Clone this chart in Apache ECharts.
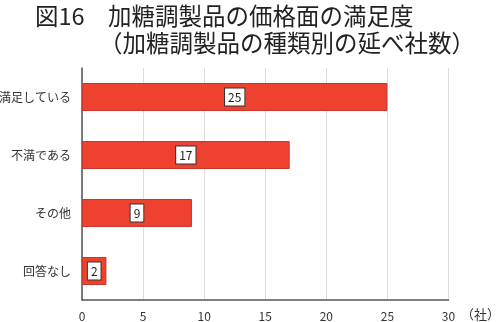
<!DOCTYPE html>
<html>
<head>
<meta charset="utf-8">
<script src="https://cdn.jsdelivr.net/npm/echarts@6/dist/echarts.min.js"></script>
<style>
  html, body { margin: 0; padding: 0; background: #fff; }
  #chart { width: 500px; height: 322px; }
</style>
</head>
<body>
<div id="chart"></div>
<script>
// 加糖調製品の価格面の満足度（延べ社数）
const categories = ['満足している', '不満である', 'その他', '回答なし'];
const counts = [25, 17, 9, 2];
const xTicks = [0, 5, 10, 15, 20, 25, 30];
const titleLine1 = '図16　加糖調製品の価格面の満足度';
const titleLine2 = '（加糖調製品の種類別の延べ社数）';
const unitLabel = '（社）';

const FONT = '"Noto Sans CJK JP", "Noto Sans", sans-serif';
const chart = echarts.init(document.getElementById('chart'), null, { renderer: 'canvas' });

chart.setOption({
  backgroundColor: '#ffffff',
  animation: false,
  textStyle: { fontFamily: FONT },
  title: [
    {
      text: titleLine1,
      left: 30, top: -1,
      textStyle: { fontFamily: FONT, fontSize: 23.5, fontWeight: 'normal', color: '#222' }
    },
    {
      text: titleLine2,
      left: 94, top: 26,
      textStyle: { fontFamily: FONT, fontSize: 23.5, fontWeight: 'normal', color: '#222' }
    }
  ],
  grid: { left: 82, right: 51.5, top: 68, bottom: 22, containLabel: false, outerBoundsMode: 'none' },
  xAxis: {
    type: 'value',
    min: xTicks[0],
    max: xTicks[xTicks.length - 1],
    interval: xTicks[1] - xTicks[0],
    name: unitLabel,
    nameLocation: 'end',
    nameGap: 10,
    nameTextStyle: { fontFamily: FONT, fontSize: 13, color: '#333', verticalAlign: 'top', padding: [8, 0, 0, 0] },
    axisLine: { show: true, lineStyle: { color: '#555', width: 1.5 } },
    axisTick: { show: false },
    axisLabel: { fontFamily: FONT, fontSize: 12, color: '#333', margin: 10 },
    splitLine: { show: true, lineStyle: { color: '#dddddd', width: 1 } }
  },
  yAxis: {
    type: 'category',
    data: categories,
    inverse: true,
    axisLine: { show: true, lineStyle: { color: '#555', width: 1.5 } },
    axisTick: { show: false },
    axisLabel: { fontFamily: FONT, fontSize: 12, color: '#333', margin: 11 },
    splitLine: { show: false }
  },
  series: [{
    type: 'bar',
    data: counts,
    barWidth: 28,
    itemStyle: { color: '#EE4130', borderColor: '#C8372A', borderWidth: 1 },
    label: {
      show: true,
      position: 'inside',
      fontFamily: FONT,
      fontSize: 12,
      color: '#222',
      backgroundColor: '#ffffff',
      borderColor: '#333',
      borderWidth: 1,
      padding: [3, 3, 2, 3]
    }
  }]
});
</script>
</body>
</html>
